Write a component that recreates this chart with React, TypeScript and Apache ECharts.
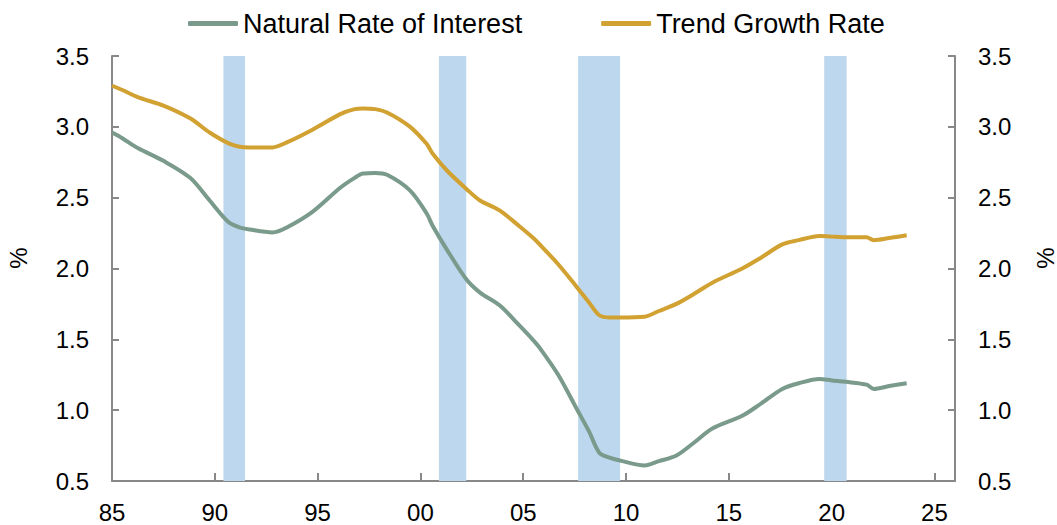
import React, { useEffect, useRef } from "react";
import * as echarts from "echarts";

const years = [
  1985.0, 1985.5, 1986.25, 1987.5, 1988.8, 1989.75, 1990.65, 1991.2, 1991.7, 1992.8,
  1993.5, 1994.75, 1996.1, 1996.8, 1997.2, 1997.8, 1998.4, 1999.5, 2000.3, 2000.6,
  2001.3, 2002.25, 2002.9, 2003.85, 2004.8, 2005.45, 2005.8, 2006.7, 2007.6, 2008.2,
  2008.7, 2009.2, 2009.7, 2010.9, 2011.6, 2012.45, 2013.3, 2014.2, 2015.65, 2016.6,
  2017.6, 2018.4, 2019.4, 2020.0, 2020.7, 2021.7, 2022.05, 2022.8, 2023.65,
];

const naturalRate = [
  2.96, 2.92, 2.85, 2.76, 2.64, 2.48, 2.33, 2.29, 2.275, 2.255,
  2.29, 2.4, 2.57, 2.64, 2.67, 2.675, 2.66, 2.55, 2.39, 2.3,
  2.13, 1.92, 1.83, 1.74, 1.6, 1.5, 1.44, 1.25, 1.01, 0.85,
  0.7, 0.665, 0.645, 0.61, 0.64, 0.68, 0.77, 0.87, 0.96, 1.05,
  1.15, 1.19, 1.22, 1.21, 1.2, 1.18, 1.15, 1.17, 1.19,
];

const trendGrowth = [
  3.29, 3.26, 3.21, 3.15, 3.06, 2.96, 2.885, 2.86, 2.855, 2.855,
  2.89, 2.98, 3.09, 3.125, 3.13, 3.125, 3.1, 3.0, 2.88, 2.81,
  2.69, 2.56, 2.48, 2.41, 2.3, 2.22, 2.17, 2.03, 1.87, 1.76,
  1.67, 1.655, 1.655, 1.66, 1.7, 1.75, 1.82, 1.9, 2.0, 2.08,
  2.17, 2.2, 2.23, 2.225, 2.22, 2.22, 2.2, 2.215, 2.235,
];

const recessionStart = [1990.42, 2000.9, 2007.67, 2019.64];
const recessionEnd = [1991.47, 2002.23, 2009.71, 2020.73];

const seriesNames = ["Natural Rate of Interest", "Trend Growth Rate"];
const yTicks = { min: 0.5, max: 3.5, interval: 0.5 };
const xRange = { min: 1985, max: 2026, interval: 5 };

export default function App() {
  const ref = useRef<HTMLDivElement>(null);

  useEffect(() => {
    if (!ref.current) return;
    const chart = echarts.init(ref.current, null, { renderer: "svg" });
    const font = "'Liberation Sans', Arial, sans-serif";
    const axisColor = "#888888";
    const green = "#7a9a8c";
    const gold = "#d1a132";

    const yAxisBase = (pos: "left" | "right") => ({
      type: "value",
      position: pos,
      min: yTicks.min,
      max: yTicks.max,
      interval: yTicks.interval,
      axisLine: { show: true, lineStyle: { color: axisColor, width: 2 } },
      axisTick: { show: true, inside: true, length: 7, lineStyle: { color: axisColor, width: 2 } },
      splitLine: { show: false },
      axisLabel: {
        margin: 23,
        color: "#000",
        fontFamily: font,
        fontSize: 24,
        formatter: (v: number) => v.toFixed(1),
      },
    });

    chart.setOption({
      animation: false,
      textStyle: { fontFamily: font },
      grid: { left: 112, right: 102, top: 56, bottom: 44, containLabel: false },
      legend: {
        left: 188,
        top: 10,
        padding: 0,
        itemGap: 79,
        itemWidth: 50,
        itemHeight: 5,
        icon: "roundRect",
        textStyle: { color: "#000", fontSize: 27, fontFamily: font },
        data: seriesNames,
      },
      xAxis: {
        type: "value",
        min: xRange.min,
        max: xRange.max,
        interval: xRange.interval,
        axisLine: { show: true, lineStyle: { color: axisColor, width: 2 } },
        axisTick: { show: true, inside: true, length: 8, lineStyle: { color: axisColor, width: 2 } },
        splitLine: { show: false },
        axisLabel: {
          margin: 19,
          color: "#000",
          fontFamily: font,
          fontSize: 24,
          showMaxLabel: false,
          formatter: (v: number) =>
            Math.round(v) % 5 === 0 ? String(Math.round(v) % 100).padStart(2, "0") : "",
        },
      },
      yAxis: [yAxisBase("left"), yAxisBase("right")],
      graphic: [
        {
          type: "text",
          x: 18,
          y: 258,
          rotation: Math.PI / 2,
          style: { text: "%", fontSize: 24, fontFamily: font, fill: "#000", align: "center", verticalAlign: "middle" },
        },
        {
          type: "text",
          x: 1045,
          y: 258,
          rotation: Math.PI / 2,
          style: { text: "%", fontSize: 24, fontFamily: font, fill: "#000", align: "center", verticalAlign: "middle" },
        },
      ],
      series: [
        {
          type: "line",
          name: "recessions",
          data: [],
          z: 1,
          silent: true,
          markArea: {
            silent: true,
            itemStyle: { color: "#bdd7ee", opacity: 1 },
            data: recessionStart.map((s, i) => [{ xAxis: s }, { xAxis: recessionEnd[i] }]),
          },
        },
        {
          type: "line",
          name: seriesNames[0],
          data: years.map((y, i) => [y, naturalRate[i]]),
          showSymbol: false,
          symbol: "none",
          smooth: 0.3,
          z: 3,
          itemStyle: { color: green },
          lineStyle: { color: green, width: 4 },
        },
        {
          type: "line",
          name: seriesNames[1],
          data: years.map((y, i) => [y, trendGrowth[i]]),
          showSymbol: false,
          symbol: "none",
          smooth: 0.3,
          z: 3,
          itemStyle: { color: gold },
          lineStyle: { color: gold, width: 4 },
        },
      ],
    });

    return () => chart.dispose();
  }, []);

  return (
    <div
      ref={ref}
      style={{ position: "fixed", left: 0, top: 0, width: 1057, height: 525, background: "#fff" }}
    />
  );
}
